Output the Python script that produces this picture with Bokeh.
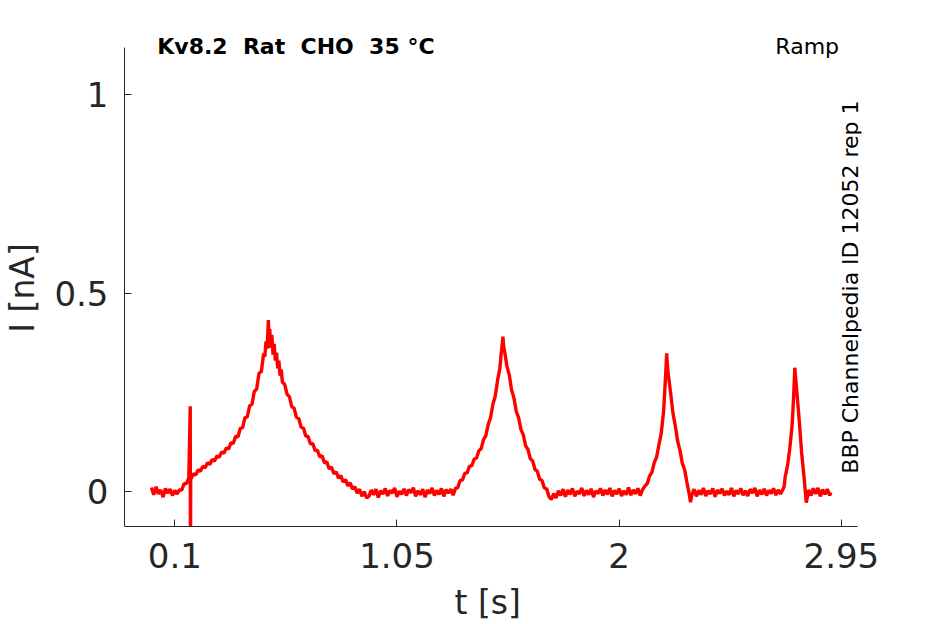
from bokeh.plotting import figure
from bokeh.models import Range1d, FixedTicker, Label
from bokeh.embed import file_html
from bokeh.resources import INLINE
import math

# ---- data (t in s, I in nA) ----
base0_t = [0.00, 0.01, 0.02, 0.03, 0.04, 0.05, 0.06, 0.07, 0.08, 0.09, 0.10, 0.11]
base0_i = [0.010, -0.008, 0.012, -0.006, 0.004, -0.014, 0.008, -0.004, 0.006, -0.010, 0.003, -0.006]

ramp1_t = [0.12, 0.13, 0.14, 0.15, 0.16, 0.166, 0.167, 0.168, 0.17, 0.18, 0.19, 0.20, 0.21, 0.22,
           0.23, 0.24, 0.25, 0.26, 0.27, 0.28, 0.29, 0.30, 0.31, 0.32, 0.33, 0.34, 0.35, 0.36,
           0.37, 0.38, 0.39, 0.40, 0.41, 0.42, 0.43, 0.44, 0.45, 0.46, 0.47, 0.48, 0.485, 0.49,
           0.495, 0.50, 0.503, 0.506, 0.51, 0.515, 0.52, 0.525, 0.53, 0.535, 0.54, 0.545, 0.55,
           0.555, 0.56, 0.57, 0.58, 0.59, 0.60, 0.61, 0.62, 0.63, 0.64, 0.65, 0.66, 0.67, 0.68,
           0.69, 0.70, 0.71, 0.72, 0.73, 0.74, 0.75, 0.76, 0.77, 0.78, 0.79, 0.80, 0.81, 0.82,
           0.83, 0.84, 0.85, 0.86, 0.87, 0.88, 0.89, 0.90, 0.91, 0.92]
ramp1_i = [0.004, 0.004, 0.020, 0.020, 0.035, 0.215, -0.250, 0.033, 0.033, 0.045, 0.042, 0.055,
           0.051, 0.064, 0.060, 0.073, 0.068, 0.081, 0.077, 0.090, 0.086, 0.100, 0.096, 0.110,
           0.107, 0.123, 0.121, 0.139, 0.138, 0.159, 0.161, 0.186, 0.188, 0.216, 0.220, 0.252,
           0.258, 0.298, 0.302, 0.348, 0.340, 0.378, 0.360, 0.432, 0.370, 0.410, 0.362, 0.395,
           0.345, 0.372, 0.330, 0.350, 0.310, 0.330, 0.292, 0.308, 0.276, 0.270, 0.245, 0.239,
           0.214, 0.210, 0.187, 0.184, 0.162, 0.160, 0.140, 0.139, 0.120, 0.121, 0.103, 0.104,
           0.087, 0.090, 0.072, 0.075, 0.057, 0.062, 0.045, 0.050, 0.034, 0.040, 0.024, 0.030,
           0.014, 0.022, 0.006, 0.012, -0.004, 0.006, -0.012, 0.000, -0.016]

base1_t = [0.93, 0.94, 0.95, 0.96, 0.97, 0.98, 0.99, 1.00, 1.01, 1.02, 1.03, 1.04, 1.05, 1.06,
           1.07, 1.08, 1.09, 1.10, 1.11, 1.12, 1.13, 1.14, 1.15, 1.16, 1.17, 1.18, 1.19, 1.20,
           1.21, 1.22, 1.23, 1.24, 1.25, 1.26, 1.27, 1.28, 1.29]
base1_i = [-0.012, 0.004, -0.008, 0.006, -0.015, 0.002, -0.006, 0.008, -0.011, 0.003, -0.004,
           0.009, -0.013, 0.001, -0.007, 0.007, -0.010, 0.005, -0.003, 0.010, -0.012, 0.002,
           -0.008, 0.006, -0.014, 0.004, -0.005, 0.009, -0.010, 0.003, -0.007, 0.008, -0.012,
           0.005, -0.004, 0.006, -0.009]

ramp2_t = [1.30, 1.31, 1.32, 1.33, 1.34, 1.35, 1.36, 1.37, 1.38, 1.39, 1.40, 1.41, 1.42, 1.43,
           1.44, 1.45, 1.46, 1.47, 1.48, 1.49, 1.495, 1.50, 1.503, 1.506, 1.51, 1.52, 1.53, 1.54,
           1.55, 1.56, 1.57, 1.58, 1.59, 1.60, 1.61, 1.62, 1.63, 1.64, 1.65, 1.66, 1.67, 1.68,
           1.69, 1.70, 1.71, 1.72]
ramp2_i = [0.008, 0.010, 0.028, 0.029, 0.046, 0.047, 0.064, 0.065, 0.082, 0.084, 0.103, 0.108,
           0.131, 0.141, 0.169, 0.186, 0.220, 0.240, 0.280, 0.311, 0.345, 0.372, 0.390, 0.365,
           0.354, 0.316, 0.294, 0.256, 0.236, 0.202, 0.186, 0.156, 0.143, 0.115, 0.106, 0.083,
           0.077, 0.056, 0.051, 0.031, 0.028, 0.009, 0.007, -0.013, -0.020, -0.005]

base2_t = [1.73, 1.74, 1.75, 1.76, 1.77, 1.78, 1.79, 1.80, 1.81, 1.82, 1.83, 1.84, 1.85, 1.86,
           1.87, 1.88, 1.89, 1.90, 1.91, 1.92, 1.93, 1.94, 1.95, 1.96, 1.97, 1.98, 1.99, 2.00,
           2.01, 2.02, 2.03, 2.04, 2.05, 2.06, 2.07, 2.08, 2.09, 2.10]
base2_i = [-0.016, 0.002, -0.010, 0.006, -0.013, 0.004, -0.007, 0.008, -0.012, 0.001, -0.006,
           0.009, -0.011, 0.003, -0.008, 0.007, -0.014, 0.002, -0.005, 0.008, -0.010, 0.004,
           -0.007, 0.009, -0.012, 0.003, -0.006, 0.007, -0.011, 0.002, -0.008, 0.010, -0.009,
           0.004, -0.006, 0.008, -0.010, 0.005]

ramp3_t = [2.11, 2.12, 2.13, 2.14, 2.15, 2.16, 2.17, 2.18, 2.19, 2.195, 2.20, 2.203, 2.206, 2.21,
           2.22, 2.23, 2.24, 2.25, 2.26, 2.27, 2.28, 2.29, 2.30, 2.305, 2.31]
ramp3_i = [0.014, 0.020, 0.039, 0.049, 0.073, 0.087, 0.118, 0.148, 0.203, 0.255, 0.310, 0.348,
           0.320, 0.295, 0.248, 0.197, 0.165, 0.127, 0.103, 0.071, 0.055, 0.022, -0.008, -0.027,
           -0.010]

base3_t = [2.32, 2.33, 2.34, 2.35, 2.36, 2.37, 2.38, 2.39, 2.40, 2.41, 2.42, 2.43, 2.44, 2.45,
           2.46, 2.47, 2.48, 2.49, 2.50, 2.51, 2.52, 2.53, 2.54, 2.55, 2.56, 2.57, 2.58, 2.59,
           2.60, 2.61, 2.62, 2.63, 2.64, 2.65, 2.66, 2.67, 2.68, 2.69, 2.70]
base3_i = [0.006, -0.012, 0.003, -0.008, 0.009, -0.011, 0.002, -0.006, 0.008, -0.013, 0.004,
           -0.005, 0.007, -0.010, 0.001, -0.008, 0.009, -0.012, 0.003, -0.006, 0.008, -0.009,
           0.002, -0.011, 0.006, -0.004, 0.009, -0.012, 0.004, -0.007, 0.007, -0.010, 0.003,
           -0.005, 0.008, -0.009, 0.004, -0.006, 0.006]

ramp4_t = [2.705, 2.71, 2.72, 2.73, 2.74, 2.745, 2.751, 2.756, 2.76, 2.77, 2.78, 2.79, 2.80, 2.805]
ramp4_i = [0.012, 0.038, 0.066, 0.112, 0.172, 0.230, 0.312, 0.275, 0.248, 0.178, 0.098, 0.038,
           -0.028, -0.012]

base4_t = [2.81, 2.82, 2.83, 2.84, 2.85, 2.86, 2.87, 2.88, 2.89, 2.90, 2.905]
base4_i = [0.004, -0.010, 0.008, -0.006, 0.009, -0.012, 0.005, -0.007, 0.006, -0.010, -0.002]

x_ticks = [0.1, 1.05, 2, 2.95]
x_tick_labels = ["0.1", "1.05", "2", "2.95"]
y_ticks = [0, 0.5, 1]
y_tick_labels = ["0", "0.5", "1"]

# double spaces kept visible in SVG with a no-break space
title_text = "Kv8.2\u00a0 Rat\u00a0 CHO\u00a0 35 °C"
protocol_text = "Ramp"
side_text = "BBP Channelpedia ID 12052 rep 1"
# trailing no-break spaces nudge the centred axis titles to the reference position
x_label = "t [s]\u00a0"
y_label = "I [nA]\u00a0\u00a0"

t_all = base0_t + ramp1_t + base1_t + ramp2_t + base2_t + ramp3_t + base3_t + ramp4_t + base4_t
i_all = base0_i + ramp1_i + base1_i + ramp2_i + base2_i + ramp3_i + base3_i + ramp4_i + base4_i

# drawn part of the axes; the frame is a little taller to leave room for the title texts
x_axis_bounds = (-0.115, 3.021)
y_axis_bounds = (-0.088, 1.118)

W, H = 937, 624
p = figure(width=W, height=H, output_backend="svg", toolbar_location=None,
           x_range=Range1d(-0.115, 3.036), y_range=Range1d(-0.088, 1.1664),
           min_border_left=123, min_border_right=76, min_border_top=28, min_border_bottom=98)
p.outline_line_color = None
p.grid.visible = False
p.background_fill_color = "white"
p.border_fill_color = "white"

p.line(t_all, i_all, line_color="#ff0000", line_width=3.4)

axcol = "#262626"
for ax in (p.xaxis[0], p.yaxis[0]):
    ax.axis_line_color = axcol
    ax.axis_line_width = 1
    ax.major_tick_line_color = axcol
    ax.major_tick_in = 7
    ax.major_tick_out = 0
    ax.minor_tick_line_color = None
    ax.major_label_text_font = "DejaVu Sans"
    ax.major_label_text_font_size = "34px"
    ax.major_label_text_color = axcol
    ax.major_label_text_line_height = 1.0
    ax.axis_label_text_font = "DejaVu Sans"
    ax.axis_label_text_font_size = "33px"
    ax.axis_label_text_font_style = "normal"
    ax.axis_label_text_color = axcol
    ax.axis_label_text_line_height = 1.0

p.xaxis.bounds = x_axis_bounds
p.yaxis.bounds = y_axis_bounds
p.xaxis.ticker = FixedTicker(ticks=x_ticks)
p.xaxis.major_label_overrides = dict(zip(x_ticks, x_tick_labels))
p.yaxis.ticker = FixedTicker(ticks=y_ticks)
p.yaxis.major_label_overrides = dict(zip(y_ticks, y_tick_labels))
p.xaxis.axis_label = x_label
p.yaxis.axis_label = y_label
p.xaxis.major_label_standoff = 16
p.xaxis.axis_label_standoff = 12
p.yaxis.major_label_standoff = 16
p.yaxis.axis_label_standoff = 9

p.add_layout(Label(x=0.025, y=1.12, text=title_text, text_font="DejaVu Sans",
                   text_font_style="bold", text_font_size="22px", text_color="black",
                   text_align="left", text_baseline="alphabetic"))
p.add_layout(Label(x=2.94, y=1.12, text=protocol_text, text_font="DejaVu Sans",
                   text_font_size="22px", text_color="black",
                   text_align="right", text_baseline="alphabetic"))
p.add_layout(Label(x=2.988, y=0.045, text=side_text, text_font="DejaVu Sans",
                   text_font_size="22px", text_color="black", angle=math.pi / 2,
                   text_align="left", text_baseline="alphabetic"))

open("out.html", "w").write(file_html(p, INLINE))
